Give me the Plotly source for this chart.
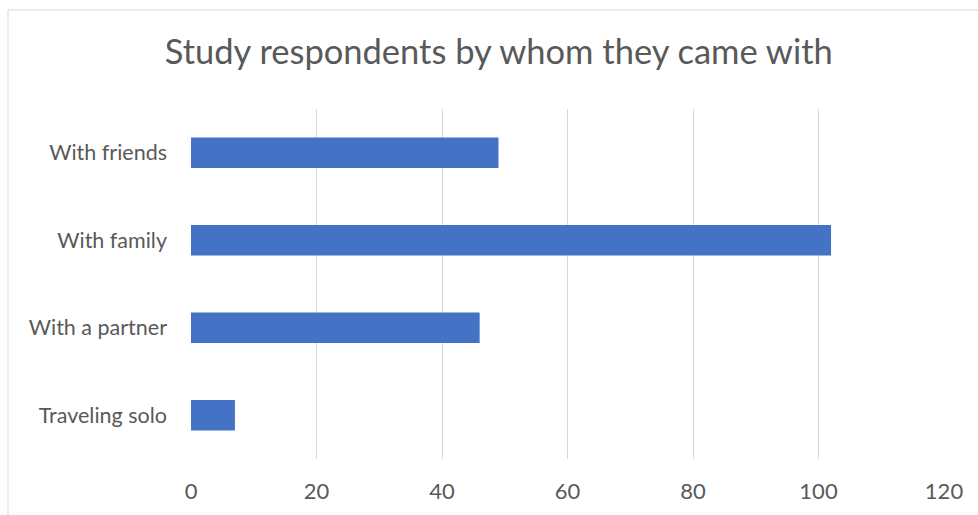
import plotly.graph_objects as go

# Survey data: who respondents travelled with
categories = ["Traveling solo", "With a partner", "With family", "With friends"]
respondents = [7, 46, 102, 49]
x_ticks = [0, 20, 40, 60, 80, 100, 120]

W, H = 978, 515
ML, MR, MT, MB = 191, 34, 109, 56
pw, ph = W - ML - MR, H - MT - MB

def px_to_paper_x(px):
    return (px - ML) / pw

def px_to_paper_y(py):
    return (H - MB - py) / ph

FONT = "Lato, 'Open Sans', sans-serif"

fig = go.Figure(
    go.Bar(
        x=respondents,
        y=categories,
        orientation="h",
        marker=dict(color="#4472C4", line=dict(width=0)),
        hoverinfo="x+y",
    )
)

fig.update_layout(
    width=W,
    height=H,
    margin=dict(l=ML, r=MR, t=MT, b=MB),
    paper_bgcolor="white",
    plot_bgcolor="white",
    bargap=0.65,
    showlegend=False,
    font=dict(family=FONT, color="#595959"),
    title=dict(
        text="Study respondents by whom they came with",
        x=0.51,
        xanchor="center",
        y=1 - 52 / H,
        yanchor="middle",
        font=dict(size=34.5, color="#595959", family=FONT),
    ),
    xaxis=dict(
        range=[0, 120],
        tickvals=x_ticks,
        ticktext=[str(v) for v in x_ticks],
        showgrid=True,
        gridcolor="#D9D9D9",
        gridwidth=1,
        zeroline=False,
        showline=False,
        ticks="",
        tickfont=dict(size=22, color="#595959", family=FONT),
        ticklabelstandoff=17,
    ),
    yaxis=dict(
        showgrid=False,
        zeroline=False,
        showline=False,
        ticks="",
        tickfont=dict(size=21.5, color="#595959", family=FONT),
        ticklabelstandoff=23,
    ),
    shapes=[
        # outer chart frame, partly running off the page edge
        dict(
            type="rect",
            xref="paper",
            yref="paper",
            x0=px_to_paper_x(8),
            y0=px_to_paper_y(H + 10),
            x1=px_to_paper_x(W + 10),
            y1=px_to_paper_y(10),
            line=dict(color="#D9D9D9", width=1),
            fillcolor="rgba(0,0,0,0)",
            layer="below",
        )
    ],
)

fig.write_html("out.html")
